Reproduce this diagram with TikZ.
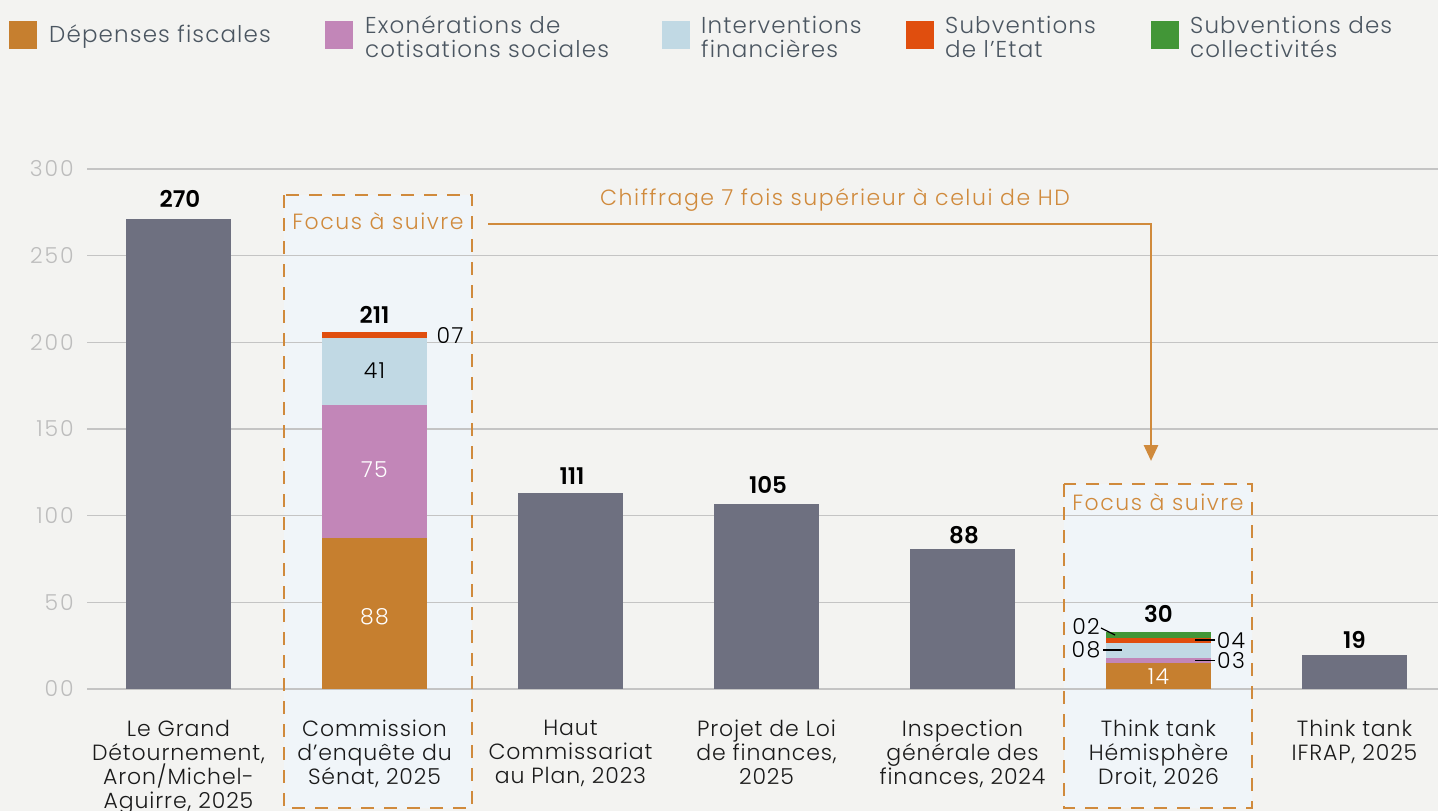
\documentclass[tikz,border=0pt]{standalone}
\usepackage{fontspec}
\setmainfont{Poppins}[UprightFont={* Light},BoldFont={* SemiBold}]
\usetikzlibrary{arrows.meta}
\definecolor{bgc}{HTML}{F3F3F1}
\definecolor{focusfill}{HTML}{F0F5F9}
\definecolor{cdep}{HTML}{C67F2F}
\definecolor{cexo}{HTML}{C286B8}
\definecolor{cint}{HTML}{C1D9E4}
\definecolor{csub}{HTML}{E04E0E}
\definecolor{ccol}{HTML}{429637}
\definecolor{cbar}{HTML}{6E7080}
\definecolor{cgrid}{HTML}{C4C4C4}
\definecolor{caxis}{HTML}{BDBDBD}
\definecolor{cfocus}{HTML}{D08A3C}
\definecolor{clegend}{HTML}{4B5661}
\definecolor{ctext}{HTML}{1A1A1A}
\newcommand{\trk}[1]{\addfontfeatures{LetterSpace=#1}}
\tikzset{
  grid line/.style={cgrid, line width=1.6pt},
  axis label/.style={anchor=east, text=caxis, inner sep=0pt, font=\fontsize{22}{24}\selectfont\trk{9}},
  legend box/.style={minimum width=28pt, minimum height=28pt, inner sep=0pt, anchor=north west},
  legend text/.style={anchor=west, text=clegend, inner sep=0pt, align=left, font=\fontsize{23}{24}\selectfont\trk{5}},
  cat label/.style={anchor=north, text=ctext, inner sep=0pt, align=center, font=\fontsize{22}{24}\selectfont\trk{4}},
  val label/.style={text=black, inner sep=0pt, font=\bfseries\fontsize{23}{24}\selectfont},
  seg label/.style={inner sep=0pt, font=\fontsize{22}{24}\selectfont\trk{6}},
  focus box/.style={draw=cfocus, line width=2.8pt, dash pattern=on 13pt off 10pt},
  focus label/.style={text=cfocus, inner sep=0pt, font=\fontsize{22}{24}\selectfont\trk{7}},
  leader/.style={black, line width=1.2pt},
  callout/.style={cfocus, line width=2.8pt, -{Triangle[width=14pt,length=16pt]}},
}
\begin{document}
\begin{tikzpicture}[x=1pt,y=-1pt]
\useasboundingbox (0,0) rectangle (1438,811);
\fill[bgc] (0,0) rectangle (1438,811);
% focus areas fill
\fill[focusfill] (284,195) rectangle (472,808);
\fill[focusfill] (1064,484) rectangle (1252,808);
% grid
\foreach \v/\lab in {0/00,50/50,100/100,150/150,200/200,250/250,300/300}{
  \pgfmathsetmacro{\yy}{689-\v*1.733333}
  \draw[grid line] (87,\yy) -- (1438,\yy);
  \node[axis label] (ax\v) at (74,\yy) {\lab};
}
% legend
\node[legend box, fill=cdep] (lg1) at (9,21) {};
\node[legend text] (lt1) at (49,37) {Dépenses fiscales};
\node[legend box, fill=cexo] (lg2) at (325,21) {};
\node[legend text] (lt2) at (365,37) {Exonérations de\\cotisations sociales};
\node[legend box, fill=cint] (lg3) at (662,21) {};
\node[legend text] (lt3) at (701,37) {Interventions\\financières};
\node[legend box, fill=csub] (lg4) at (906,21) {};
\node[legend text] (lt4) at (945,37) {Subventions\\de l’Etat};
\node[legend box, fill=ccol] (lg5) at (1151,21) {};
\node[legend text] (lt5) at (1190,37) {Subventions des\\collectivités};
% bars
\fill[cbar] (126,219) rectangle (231,689);
\fill[cdep] (322,538) rectangle (427,689);
\fill[cexo] (322,405) rectangle (427,538);
\fill[cint] (322,338) rectangle (427,405);
\fill[csub] (322,332) rectangle (427,338);
\fill[cbar] (518,493) rectangle (623,689);
\fill[cbar] (714,504) rectangle (819,689);
\fill[cbar] (910,549) rectangle (1015,689);
\fill[cdep] (1106,663) rectangle (1211,689);
\fill[cexo] (1106,658) rectangle (1211,663);
\fill[cint] (1106,643) rectangle (1211,658);
\fill[csub] (1106,637.5) rectangle (1211,643);
\fill[ccol] (1106,632) rectangle (1211,637.5);
\fill[cbar] (1302,655) rectangle (1407,689);
% focus borders
\draw[focus box] (284,195) rectangle (472,808);
\draw[focus box] (1064,484) rectangle (1252,808);
\node[focus label] (f1) at (378,221) {Focus à suivre};
\node[focus label] (f2) at (1158,502) {Focus à suivre};
% callout arrow
\node[focus label] (chiffre) at (835,200) {Chiffrage 7 fois supérieur à celui de HD};
\coordinate (cs) at (488,224);
\coordinate (ce) at (1151,461);
\draw[callout] (cs) -| (ce);
% value labels
\node[val label] (v1) at (180,199) {270};
\node[val label] (v2) at (374.5,315) {211};
\node[val label] (v3) at (572,476) {111};
\node[val label] (v4) at (768,485) {105};
\node[val label] (v5) at (964,535) {88};
\node[val label] (v6) at (1158.5,614) {30};
\node[val label] (v7) at (1354.5,640) {19};
% segment labels
\node[seg label, text=white] (s88) at (374.5,617) {88};
\node[seg label, text=white] (s75) at (374.5,470) {75};
\node[seg label, text=black] (s41) at (374.5,371) {41};
\node[seg label, text=black] (s07) at (450,336) {07};
\node[seg label, text=white] (s14) at (1158.5,677) {14};
\node[seg label, text=black] (s02) at (1086,626) {02};
\node[seg label, text=black] (s08) at (1086,650) {08};
\node[seg label, text=black] (s04) at (1231,641) {04};
\node[seg label, text=black] (s03) at (1231,661) {03};
\coordinate (l02a) at (1101,628);
\coordinate (l02b) at (1115,635);
\coordinate (l08a) at (1103,650);
\coordinate (l08b) at (1122,650);
\coordinate (l04a) at (1195,640);
\coordinate (l04b) at (1215,640);
\coordinate (l03a) at (1195,660.5);
\coordinate (l03b) at (1215,660.5);
\draw[leader] (l02a) -- (l02b);
\draw[leader] (l08a) -- (l08b);
\draw[leader] (l04a) -- (l04b);
\draw[leader] (l03a) -- (l03b);
% category labels
\node[cat label] (c1) at (178.5,720) {Le Grand\\Détournement,\\Aron/Michel-\\Aguirre, 2025};
\node[cat label] (c2) at (374.5,720) {Commission\\d’enquête du\\Sénat, 2025};
\node[cat label] (c3) at (570.5,720) {Haut\\Commissariat\\au Plan, 2023};
\node[cat label] (c4) at (766.5,720) {Projet de Loi\\de finances,\\2025};
\node[cat label] (c5) at (962.5,720) {Inspection\\générale des\\finances, 2024};
\node[cat label] (c6) at (1158.5,720) {Think tank\\Hémisphère\\Droit, 2026};
\node[cat label] (c7) at (1354.5,720) {Think tank\\IFRAP, 2025};
\end{tikzpicture}
\end{document}
